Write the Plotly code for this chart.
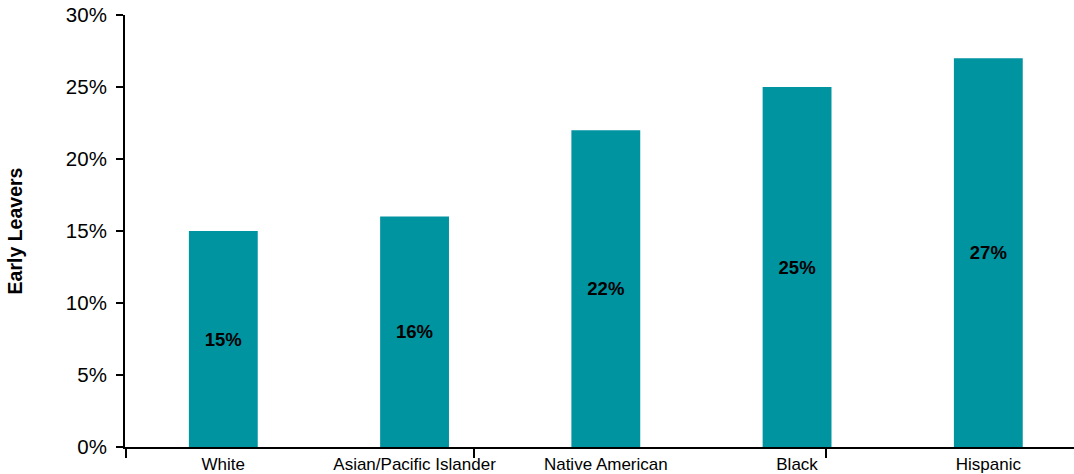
import plotly.graph_objects as go

# Early leavers by race/ethnicity
groups = ["White", "Asian/Pacific Islander", "Native American", "Black", "Hispanic"]
early_leavers_pct = [15, 16, 22, 25, 27]
bar_labels = ["15%", "16%", "22%", "25%", "27%"]
y_ticks = [0, 5, 10, 15, 20, 25, 30]
y_tick_text = ["0%", "5%", "10%", "15%", "20%", "25%", "30%"]

FONT = "Liberation Sans, Arial, sans-serif"
TEAL = "#0093A0"

positions = list(range(len(groups)))
x_range = [-0.514, 4.448]

fig = go.Figure()
fig.add_trace(go.Bar(
    x=positions,
    y=early_leavers_pct,
    width=0.36,
    marker=dict(color=TEAL, line=dict(width=0)),
    text=bar_labels,
    textposition="inside",
    insidetextanchor="middle",
    textangle=0,
    textfont=dict(family=FONT, size=18.5, color="black", weight="bold"),
    hoverinfo="skip",
))

# invisible trace to carry the secondary axis holding the downward ticks
fig.add_trace(go.Scatter(x=[x_range[0]], y=[0], xaxis="x2", mode="markers",
                         marker=dict(opacity=0), hoverinfo="skip", showlegend=False))

fig.update_layout(
    width=1074,
    height=474,
    margin=dict(l=125, r=0, t=15, b=27),
    paper_bgcolor="white",
    plot_bgcolor="white",
    showlegend=False,
    font=dict(family=FONT, color="black"),
    xaxis=dict(
        range=x_range,
        tickvals=positions,
        ticktext=groups,
        ticks="",
        showgrid=False,
        zeroline=False,
        showline=True,
        linecolor="black",
        linewidth=2,
        tickfont=dict(family=FONT, size=17, color="black"),
        ticklabelstandoff=1,
    ),
    xaxis2=dict(
        overlaying="x",
        side="bottom",
        range=x_range,
        tickvals=[x_range[0] + 0.004, 1.31, 3.15],
        showticklabels=False,
        ticks="outside",
        ticklen=10,
        tickwidth=2,
        tickcolor="black",
        showgrid=False,
        zeroline=False,
        showline=False,
    ),
    yaxis=dict(
        range=[0, 30],
        tickvals=y_ticks,
        ticktext=y_tick_text,
        ticks="outside",
        ticklen=7,
        tickwidth=2,
        tickcolor="black",
        showgrid=False,
        zeroline=False,
        showline=True,
        linecolor="black",
        linewidth=2,
        tickfont=dict(family=FONT, size=20.5, color="black"),
        ticklabelstandoff=5,
        title=dict(text="Early Leavers", font=dict(family=FONT, size=19.5, color="black", weight="bold"),
                   standoff=38),
    ),
)

fig.write_html("out.html")
